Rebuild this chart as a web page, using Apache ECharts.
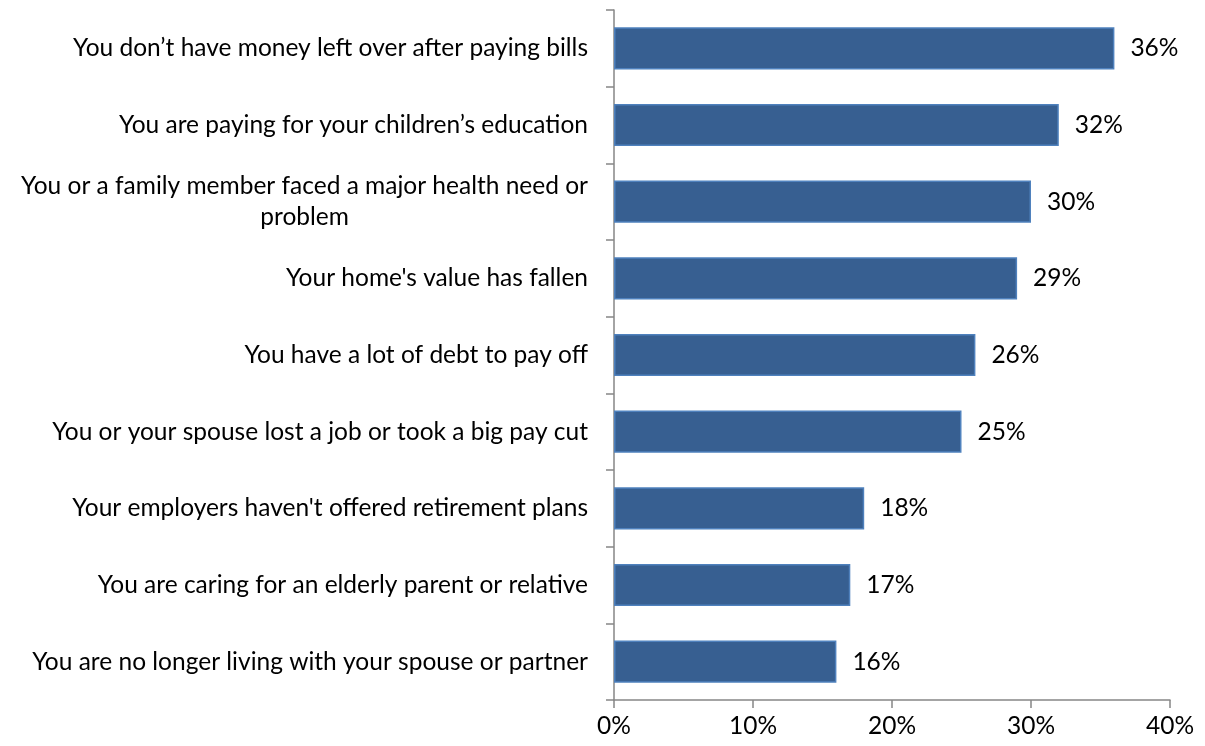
<!DOCTYPE html>
<html>
<head>
<meta charset="utf-8">
<script src="https://cdn.jsdelivr.net/npm/echarts@6/dist/echarts.min.js"></script>
<style>
  html, body { margin: 0; padding: 0; background: #ffffff; }
  #chart { width: 1205px; height: 746px; }
</style>
</head>
<body>
<div id="chart"></div>
<script>
// Reasons listed top to bottom
const categories = [
  "You don\u2019t have money left over after paying bills",
  "You are paying for your children\u2019s education",
  "You or a family member faced a major health need or problem",
  "Your home's value has fallen",
  "You have a lot of debt to pay off",
  "You or your spouse lost a job or took a big pay cut",
  "Your employers haven't offered retirement plans",
  "You are caring for an elderly parent or relative",
  "You are no longer living with your spouse or partner"
];
// Share of respondents, percent
const values = [36, 32, 30, 29, 26, 25, 18, 17, 16];
const xTicks = [0, 10, 20, 30, 40];

// Long labels are split onto two centred lines
const wrapAt = "need or ";

const FONT = "Lato, 'Open Sans', sans-serif";
const FS = 24.5;
const chart = echarts.init(document.getElementById('chart'), null, { renderer: 'canvas' });

chart.setOption({
  animation: false,
  backgroundColor: '#ffffff',
  grid: { left: 614, right: 35, top: 10, bottom: 46, containLabel: false },
  xAxis: {
    type: 'value',
    min: xTicks[0],
    max: xTicks[xTicks.length - 1],
    interval: 10,
    axisLine: { show: true, lineStyle: { color: '#868686', width: 1.5 } },
    axisTick: { show: true, length: 8, lineStyle: { color: '#868686', width: 1.5 } },
    splitLine: { show: false },
    axisLabel: {
      formatter: v => v + '%',
      color: '#000000',
      fontFamily: FONT,
      fontSize: FS,
      margin: 14
    }
  },
  yAxis: {
    type: 'category',
    inverse: true,
    data: categories,
    axisLine: { show: true, lineStyle: { color: '#868686', width: 1.5 } },
    axisTick: { show: true, length: 8, alignWithLabel: false, lineStyle: { color: '#868686', width: 1.5 } },
    axisLabel: {
      color: '#000000',
      fontFamily: FONT,
      fontSize: FS,
      margin: 26,
      lineHeight: 31,
      formatter: function (name) {
        const i = name.indexOf(wrapAt);
        if (i >= 0) {
          const a = name.slice(0, i + wrapAt.length - 1);
          const b = name.slice(i + wrapAt.length);
          return '{c|' + a + '}\n{c|' + b + '}';
        }
        return name;
      },
      rich: {
        c: { align: 'center', fontFamily: FONT, fontSize: FS, color: '#000000', lineHeight: 31 }
      }
    }
  },
  series: [{
    type: 'bar',
    data: values,
    barWidth: '55%',
    itemStyle: {
      color: '#375F91',
      borderColor: '#4F81BD',
      borderWidth: 1.5
    },
    label: {
      show: true,
      position: 'right',
      distance: 16,
      formatter: p => p.value + '%',
      color: '#000000',
      fontFamily: FONT,
      fontSize: FS
    }
  }]
});
</script>
</body>
</html>
